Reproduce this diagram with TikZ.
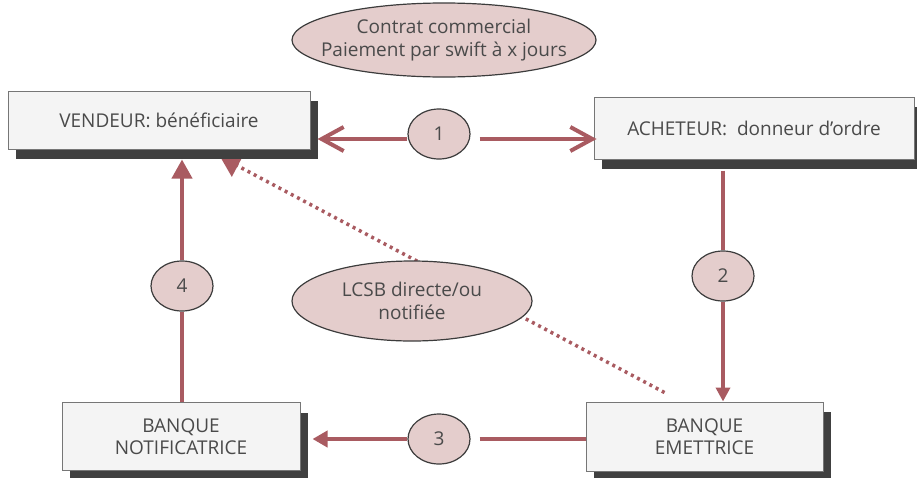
\documentclass[tikz,border=0pt]{standalone}
\usepackage{fontspec}
\setmainfont{Open Sans}
\usetikzlibrary{arrows.meta,shapes.geometric,shadows}
\definecolor{arr}{HTML}{A95B61}
\definecolor{efill}{HTML}{E4CDCC}
\definecolor{bfill}{HTML}{F4F4F4}
\definecolor{txt}{HTML}{4A4A4A}
\definecolor{shad}{HTML}{404040}
\definecolor{bord}{HTML}{767676}
\definecolor{eline}{HTML}{3C3C3C}
\pgfdeclarelayer{bg}\pgfsetlayers{bg,main}
\begin{document}
\begin{tikzpicture}[x=1pt,y=-1pt,
  txtfont/.style={text=txt,font=\fontsize{19}{22.5}\selectfont,align=center},
  box/.style={txtfont,draw=bord,line width=1pt,fill=bfill,inner sep=0pt,
    drop shadow={shadow xshift=8pt,shadow yshift=-10pt,fill=shad,opacity=1}},
  bubble/.style={txtfont,ellipse,draw=eline,line width=1.2pt,fill=efill,inner xsep=-40pt,inner ysep=-12pt},
  num/.style={bubble,minimum width=62pt,minimum height=50pt},
  conn/.style={draw=arr,line width=4pt},
  barb/.style={-{Straight Barb[length=22pt,width=24pt]}},
  tri/.style={-{Triangle[length=14pt,width=14pt]}},
  bigtri/.style={-{Triangle[length=19pt,width=20pt]}}]
\useasboundingbox (0,0) rectangle (917,477);
% boxes
\node[box,minimum width=302pt,minimum height=58pt] (vend) at (159,120) {VENDEUR: bénéficiaire};
\node[box,minimum width=320pt,minimum height=62pt] (ach) at (754,128) {ACHETEUR:\ \ donneur d’ordre};
\node[box,minimum width=237pt,minimum height=69pt] (emet) at (704.5,436.5) {BANQUE\\EMETTRICE};
\node[box,minimum width=238pt,minimum height=68pt] (notif) at (181,436.5) {BANQUE\\NOTIFICATRICE};
% bubbles
\node[bubble,minimum width=304pt,minimum height=74pt] (contrat) at (444,40) {Contrat commercial\\Paiement par swift à x jours};
\node[bubble,minimum width=240pt,minimum height=80pt] (lcsb) at (412,301) {LCSB directe/ou\\notifiée};
\node[num] (c1) at (439,134) {1};
\node[num] (c2) at (723,276) {2};
\node[num] (c3) at (439,439) {3};
\node[num] (c4) at (182,286) {4};
% dotted connector behind
\coordinate (dstart) at ([xshift=79pt,yshift=9pt]emet.north west);
\coordinate (dend) at ([xshift=61pt,yshift=-7pt]vend.south);
\begin{pgfonlayer}{bg}
\draw[conn,line width=3.5pt,dash pattern=on 3pt off 4pt,-{Triangle[length=20pt,width=24pt]}] (dstart) -- (dend);
\end{pgfonlayer}
% connector 1
\path (c1.west) ++(0,5) coordinate (c1w);
\path (c1.east) ++(9,5) coordinate (c1e);
\coordinate (v1) at (c1w -| vend.east);
\coordinate (a1) at (c1e -| ach.west);
\draw[conn,barb] (c1w) -- ([xshift=7pt]v1);
\draw[conn,barb] (c1e) -- ([xshift=3pt]a1);
% connector 2
\coordinate (a2) at ([yshift=-11pt]ach.south -| c2);
\draw[conn,line width=3.5pt] (a2) -- (c2.north);
\draw[conn,line width=3.5pt,tri] (c2.south) -- (c2 |- emet.north);
% connector 3
\path (c3.east) ++(9,0) coordinate (c3e);
\coordinate (e3) at (c3e -| emet.west);
\coordinate (n3) at (c3.west -| notif.east);
\draw[conn] (c3e) -- (e3);
\draw[conn,-{Triangle[length=15pt,width=16pt]}] (c3.west) -- ([xshift=12pt]n3);
% connector 4
\coordinate (v4) at ([yshift=-10pt]vend.south -| c4);
\draw[conn] (c4 |- notif.north) -- (c4.south);
\draw[conn,bigtri] (c4.north) -- (v4);
\end{tikzpicture}
\end{document}
